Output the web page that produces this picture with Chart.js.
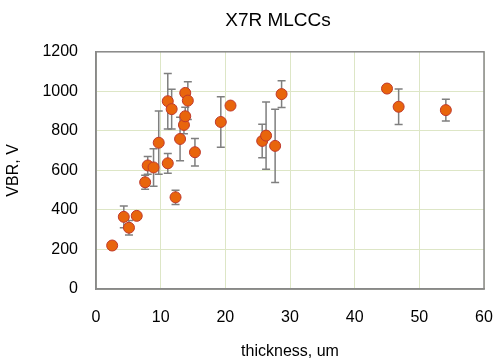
<!DOCTYPE html>
<html>
<head>
<meta charset="utf-8">
<script src="https://cdn.jsdelivr.net/npm/chart.js@4/dist/chart.umd.min.js"></script>
<style>
  html, body { margin: 0; padding: 0; background: #fff; }
  #wrap { width: 493px; height: 362px; }
</style>
</head>
<body>
<div id="wrap"><canvas id="chart" width="493" height="362"></canvas></div>
<script>
// thickness (um), breakdown voltage (V), error (+/- V)
const thickness = [2.5, 4.3, 5.1, 6.3, 7.6, 8.0, 8.9, 9.7, 11.1, 11.7, 11.1, 12.3, 13.0, 13.6, 13.8, 13.8, 14.2, 15.3, 19.3, 20.8, 25.7, 26.3, 27.7, 28.7, 45.0, 46.8, 54.1];
const vbr = [220, 365, 310, 370, 540, 625, 615, 740, 950, 910, 636, 464, 759, 830, 874, 992, 953, 692, 845, 928, 749, 776, 724, 986, 1014, 922, 905];
const vbrErr = [0, 55, 37, 0, 35, 45, 95, 160, 140, 100, 50, 36, 110, 45, 45, 0, 95, 70, 128, 0, 85, 170, 185, 68, 8, 90, 55];

const xTicks = [0, 10, 20, 30, 40, 50, 60];
const yTicks = [0, 200, 400, 600, 800, 1000, 1200];

const points = thickness.map((t, i) => ({ x: t, y: vbr[i] }));

//barres d'erreur dessinées sous les points
const errorBars = {
    id: 'errorBars',
    beforeDatasetsDraw(chart) {
        const ctx = chart.ctx;
        const xs = chart.scales.x;
        const ys = chart.scales.y;
        ctx.save();
        ctx.strokeStyle = '#7f7f7f';
        ctx.lineWidth = 1.5;
        thickness.forEach((t, i) => {
            if (!vbrErr[i]) return;
            const px = xs.getPixelForValue(t);
            const top = ys.getPixelForValue(vbr[i] + vbrErr[i]);
            const bot = ys.getPixelForValue(vbr[i] - vbrErr[i]);
            ctx.beginPath();
            ctx.moveTo(px, top); ctx.lineTo(px, bot);
            ctx.moveTo(px - 4, top); ctx.lineTo(px + 4, top);
            ctx.moveTo(px - 4, bot); ctx.lineTo(px + 4, bot);
            ctx.stroke();
        });
        ctx.restore();
    }
};

Chart.defaults.font.family = '"Liberation Sans", Arial, sans-serif';
Chart.defaults.color = '#000';

new Chart(document.getElementById('chart'), {
    type: 'scatter',
    data: {
        datasets: [{
            data: points,
            backgroundColor: '#e8650c',
            borderColor: '#c0392b',
            borderWidth: 1,
            pointRadius: 5.5,
            pointHoverRadius: 5.5
        }]
    },
    options: {
        responsive: false,
        animation: false,
        layout: { padding: { left: 0, right: 0, top: 0, bottom: 0 } },
        plugins: {
            legend: { display: false },
            tooltip: { enabled: false },
            title: {
                display: true,
                text: 'X7R MLCCs',
                fullSize: false,
                font: { size: 19, weight: 'normal' },
                padding: { top: 9, bottom: 20 }
            }
        },
        scales: {
            x: {
                type: 'linear',
                min: 0, max: 60,
                afterBuildTicks: s => { s.ticks = xTicks.map(v => ({ value: v })); },
                afterFit: s => { s.height = 73; s.paddingRight = 9; s.paddingLeft = 0; },
                grid: { color: '#dde6c6', drawTicks: false },
                border: { color: '#888', width: 1.5 },
                ticks: { padding: 19, font: { size: 16 }, maxRotation: 0, callback: v => String(v) },
                title: { display: true, text: 'thickness, um', font: { size: 16 }, padding: { top: 0, bottom: 1 } }
            },
            y: {
                min: 0, max: 1200,
                afterBuildTicks: s => { s.ticks = yTicks.map(v => ({ value: v })); },
                afterFit: s => { s.width = 96; },
                grid: { color: '#dde6c6', drawTicks: false },
                border: { color: '#888', width: 1.5 },
                ticks: { padding: 18, font: { size: 16 }, callback: v => String(v) },
                title: { display: true, text: 'VBR, V', font: { size: 16 }, padding: { top: 4, bottom: 10 } }
            }
        }
    },
    plugins: [errorBars, {
        //titre un peu décalé vers la gauche comme dans l'original
        id: 'titleShift',
        afterLayout(chart) {
            if (chart.titleBlock) {
                chart.titleBlock.left = 72;
                chart.titleBlock.right = 484;
            }
        }
    }, {
        //cadre gris autour de la zone de tracé
        id: 'frame',
        afterDraw(chart) {
            const a = chart.chartArea;
            const ctx = chart.ctx;
            ctx.save();
            ctx.strokeStyle = '#888';
            ctx.lineWidth = 1.5;
            ctx.strokeRect(a.left, a.top, a.right - a.left, a.bottom - a.top);
            ctx.restore();
        }
    }]
});
</script>
</body>
</html>
